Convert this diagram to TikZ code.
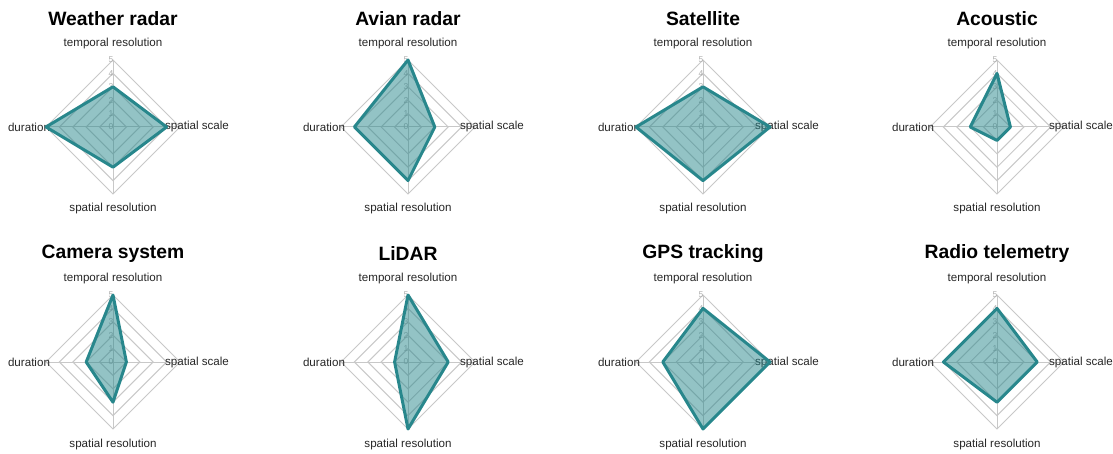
\documentclass[tikz,border=0pt]{standalone}
\usepackage{fontspec}
\setmainfont{Liberation Sans}
\usepackage{tikz}

\definecolor{teal1}{RGB}{40,135,140}
\definecolor{gridgray}{RGB}{200,200,200}
\definecolor{labgray}{RGB}{175,175,175}

\tikzset{
	gridline/.style={draw=gridgray, line width=1pt},
	scalelab/.style={text=labgray, font=\fontsize{8.5}{9}\selectfont, inner sep=0pt},
	axislab/.style={font=\fontsize{11.6}{13}\selectfont, inner sep=0pt, text=black!85},
	titlelab/.style={font=\fontsize{19.3}{22}\selectfont\bfseries, inner sep=0pt},
	profile/.style={draw=teal1, fill=teal1, fill opacity=0.5, line width=3pt, line join=round}
}

% #1 name, #2 x, #3 y, #4 title, #5 temporal, #6 scale, #7 resolution, #8 duration
\newcommand{\radarchart}[8]{%
	\begin{scope}[shift={(#2,#3)}]
		\foreach \k in {1,...,5}
			\draw[gridline] (0,-\k*13.4) -- (\k*13.4,0) -- (0,\k*13.4) -- (-\k*13.4,0) -- cycle;
		\draw[gridline] (0,-67) -- (0,67) (-67,0) -- (67,0);
		\foreach \k in {0,...,5}
			\node[scalelab] (#1-\k) at (-2,-\k*13.4) {\k};
		\node[titlelab] (#1-title) at (0,-108) {#4};
		\node[axislab] (#1-t) at (0,-83) {temporal resolution};
		\node[axislab] (#1-r) at (0,82) {spatial resolution};
		\node[axislab] (#1-s) at (84,0) {spatial scale};
		\node[axislab] (#1-d) at (-84,0) {duration};
		\draw[profile] (0,-#5*13.4) -- (#6*13.4,0) -- (0,#7*13.4) -- (-#8*13.4,0) -- cycle;
	\end{scope}}

\begin{document}
\begin{tikzpicture}[x=1pt, y=-1pt]
	\useasboundingbox (0,0) rectangle (1113,454);

	\radarchart{weather}{113}{127}{Weather radar}{3}{4}{3}{5}
	\radarchart{avian}{408}{127}{Avian radar}{5}{2}{4}{4}
	\radarchart{sat}{703}{127}{Satellite}{3}{5}{4}{5}
	\radarchart{acoustic}{997}{127}{Acoustic}{4}{1}{1}{2}

	\radarchart{camera}{113}{362}{Camera system}{5}{1}{3}{2}
	\radarchart{lidar}{408}{362}{LiDAR}{5}{3}{5}{1}
	\radarchart{gps}{703}{362}{GPS tracking}{4}{5}{5}{3}
	\radarchart{radio}{997}{362}{Radio telemetry}{4}{3}{3}{4}
\end{tikzpicture}
\end{document}
